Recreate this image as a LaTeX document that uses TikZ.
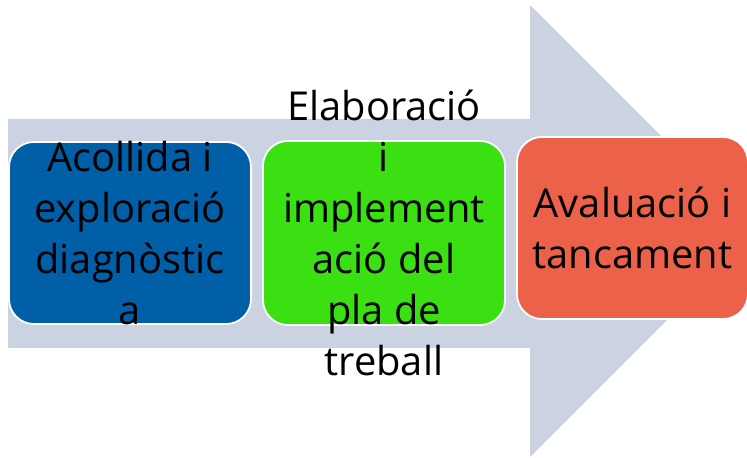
\documentclass[tikz,border=0pt]{standalone}
\usepackage{fontspec}
\setmainfont{Open Sans}
\usepackage{tikz}

\definecolor{fletxa}{HTML}{CBD3E2}
\definecolor{blau}{HTML}{005FA7}
\definecolor{verd}{HTML}{3AE011}
\definecolor{vermell}{HTML}{EB614A}

\tikzset{
	pas/.style={draw=white, line width=1.5pt, rounded corners=0.75cm, minimum width=7.26cm, minimum height=5.46cm},
	textpas/.style={align=center, inner sep=0pt, font=\fontsize{34}{43.4}\selectfont}
}

\begin{document}
\begin{tikzpicture}[x=0.03cm, y=-0.03cm]

		\useasboundingbox (0,0) rectangle (747,458);

		\fill[fletxa] (8,119) -- (530,119) -- (530,5) -- (756,231) -- (530,457) -- (530,348) -- (8,348) -- cycle;

		\node[pas, fill=blau] (acollida) at (130,233) {};
		\node[pas, fill=verd, minimum height=5.52cm] (elaboracio) at (384,233) {};
		\node[pas, fill=vermell, minimum width=6.93cm] (avaluacio) at (632.5,228) {};

		\node[textpas] (acollidatext) at (acollida.center) {Acollida i\\exploració\\diagnòstic\\a};
		\node[textpas] (elaboraciotext) at (elaboracio.center) {Elaboració\\i\\implement\\ació del\\pla de\\treball};
		\node[textpas] (avaluaciotext) at (avaluacio.center) {Avaluació i\\tancament};
	\end{tikzpicture}
\end{document}
